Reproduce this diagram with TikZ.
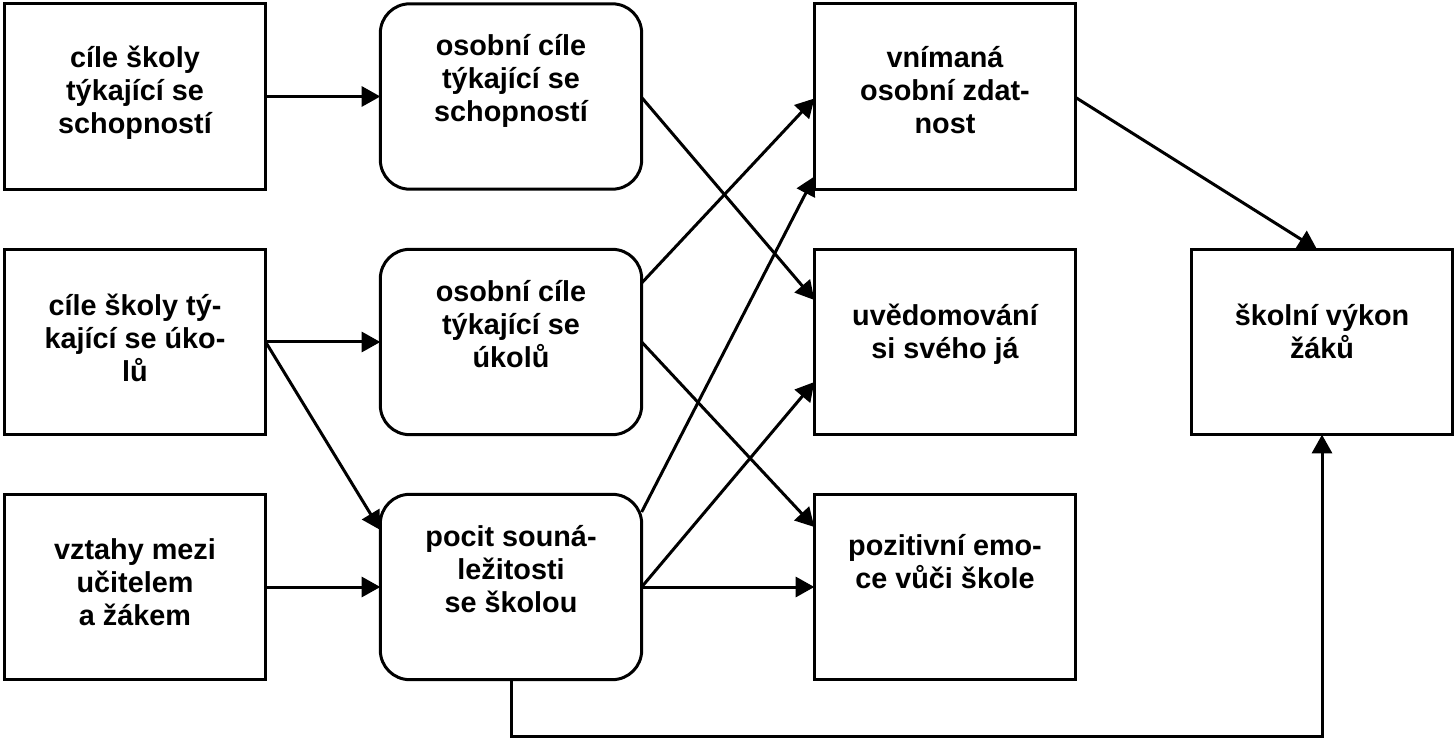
\documentclass[tikz,border=0pt]{standalone}
\usepackage{fontspec}
\setmainfont{Liberation Sans}
\usetikzlibrary{arrows.meta,calc}
\begin{document}
\begin{tikzpicture}[x=0.75pt,y=-0.75pt,
 box/.style={draw,line width=2.25pt,minimum width=196pt,minimum height=139pt,inner sep=0pt,outer sep=0pt},
 rbox/.style={box,rounded corners=22pt},
 txt/.style={anchor=north,align=center,inner sep=0pt,font=\fontsize{21.6}{24.75}\selectfont\bfseries},
 arr/.style={line width=2.25pt,-{Triangle[length=14pt,width=15pt]}}]
\useasboundingbox (0,0) rectangle (1456,741);
\newcommand{\firstline}{\rule{0pt}{18pt}}
\node[box]  (a1) at (135,96.5) {};
\node[box]  (a2) at (135,342) {};
\node[box]  (a3) at (135,587) {};
\node[rbox] (b1) at (511,96.5) {};
\node[rbox] (b2) at (511,342) {};
\node[rbox] (b3) at (511,587) {};
\node[box]  (c1) at (945,96.5) {};
\node[box]  (c2) at (945,342) {};
\node[box]  (c3) at (945,587) {};
\node[box]  (d)  at (1322,342) {};
\node[txt] (a1t) at (135,43)  {\firstline cíle školy\\týkající se\\schopností};
\node[txt] (a2t) at (135,291) {\firstline cíle školy tý-\\kající se úko-\\lů};
\node[txt] (a3t) at (135,535) {\firstline vztahy mezi\\učitelem\\a žákem};
\node[txt] (b1t) at (511,31)  {\firstline osobní cíle\\týkající se\\schopností};
\node[txt] (b2t) at (511,277) {\firstline osobní cíle\\týkající se\\úkolů};
\node[txt] (b3t) at (511,522) {\firstline pocit souná-\\ležitosti\\se školou};
\node[txt] (c1t) at (945,43)  {\firstline vnímaná\\osobní zdat-\\nost};
\node[txt] (c2t) at (945,301) {\firstline uvědomování\\si svého já};
\node[txt] (c3t) at (945,531) {\firstline pozitivní emo-\\ce vůči škole};
\node[txt] (dt)  at (1322,301) {\firstline školní výkon\\žáků};
\draw[arr] (a1.east) -- (b1.west);
\draw[arr] (a2.east) -- (b2.west);
\draw[arr] (a2.east) -- ($(b3.west)+(0,-57)$);
\draw[arr] (a3.east) -- (b3.west);
\draw[arr] ($(b1.east)+(0,1)$) -- ($(c2.west)+(0,-42)$);
\draw[arr] ($(b2.east)+(0,-59)$) -- ($(c1.west)+(0,2)$);
\draw[arr] (b2.east) -- ($(c3.west)+(0,-60)$);
\draw[arr] ($(b3.east)+(0,-75)$) -- ($(c1.west)+(0,80)$);
\draw[arr] (b3.east) -- ($(c2.west)+(0,40)$);
\draw[arr] (b3.east) -- (c3.west);
\draw[arr] ($(c1.east)+(0,1)$) -- ($(d.north)+(-5,0)$);
\draw[arr] (b3.south) -- ++(0,57) -| (d.south);
\end{tikzpicture}
\end{document}
